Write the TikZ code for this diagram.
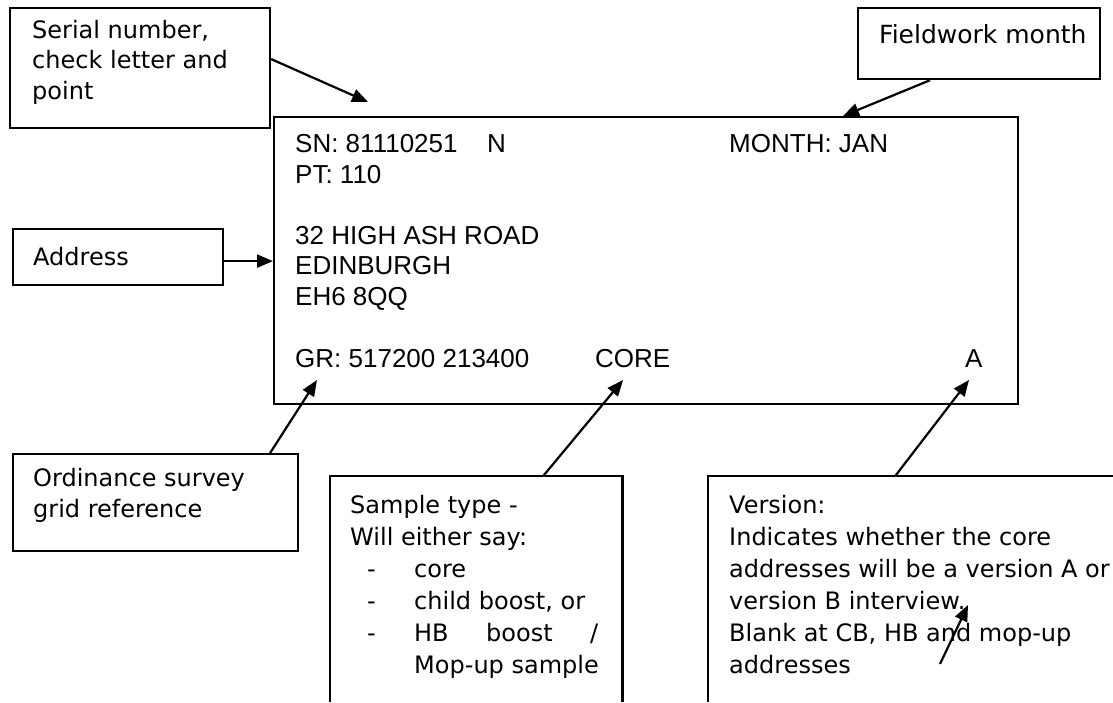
\documentclass[tikz,border=0pt]{standalone}
\usepackage{fontspec}
\setmainfont{DejaVu Sans}
\newfontfamily\arialf{Liberation Sans}
\usetikzlibrary{arrows.meta}
\begin{document}
\begin{tikzpicture}[x=1pt,y=-1pt,
  box/.style={draw, line width=2.2pt, inner sep=0pt, anchor=north west},
  area/.style={inner sep=0pt, anchor=north west},
  lbl/.style={anchor=base west, inner sep=0pt, align=left, font=\fontsize{24}{30.5}\selectfont},
  lblwide/.style={anchor=base west, inner sep=0pt, align=left, font=\fontsize{24}{32}\selectfont},
  rec/.style={anchor=base west, inner sep=0pt, align=left, font=\arialf\fontsize{26}{30.5}\selectfont},
  conn/.style={line width=2.2pt, -{Triangle[length=16pt,width=13pt]}}]
\useasboundingbox (0,0) rectangle (1113,702);

% boxes
\node[box, minimum width=260pt, minimum height=120pt] (serialbox) at (9,7) {};
\node[box, minimum width=242pt, minimum height=71pt] (monthbox) at (857,7) {};
\node[box, minimum width=744pt, minimum height=287pt] (mainbox) at (273,116) {};
\node[box, minimum width=210pt, minimum height=56pt] (addrbox) at (12,228) {};
\node[box, minimum width=285pt, minimum height=97pt] (osbox) at (12,453) {};
\node[area, minimum width=292pt, minimum height=226pt] (samplebox) at (330,476) {};
\draw[line width=2.2pt] (samplebox.south west) |- (samplebox.north east) -- (samplebox.south east);
\node[area, minimum width=405pt, minimum height=226pt] (versionbox) at (708,476) {};
\draw[line width=2.2pt] (versionbox.south west) -- (versionbox.north west) -- (versionbox.north east);

% callout texts (anchor = baseline of the last line)
\node[lbl] (serialtxt) at (32,99) {Serial number,\\check letter and\\point};
\node[lbl, font=\fontsize{25}{30}\selectfont] (monthtxt) at (879,43) {Fieldwork month};
\node[lbl] (addrtxt) at (33,265) {Address};
\node[lbl, font=\fontsize{24}{31}\selectfont] (ostxt) at (33,517) {Ordinance survey\\grid reference};
\node[lblwide] (sampletxt) at (350,673) {Sample type -\\Will either say:\\
  \hspace*{17pt}\makebox[47pt][l]{-}core\\
  \hspace*{17pt}\makebox[47pt][l]{-}child boost, or\\
  \hspace*{17pt}\makebox[47pt][l]{-}\makebox[184pt][s]{HB\hfill boost\hfill /}\\
  \hspace*{64pt}Mop-up sample};
\node[lblwide] (versiontxt) at (729,673) {Version:\\Indicates whether the core\\addresses will be a version A or\\version B interview.\\Blank at CB, HB and mop-up\\addresses};

% record texts
\node[rec] (sn) at (295,152) {\makebox[192pt][l]{SN: 81110251}N};
\node[rec] (month) at (729,152) {MONTH: JAN};
\node[rec] (pt) at (295,183) {PT: 110};
\node[rec] (addr) at (295,305) {32 HIGH ASH ROAD\\EDINBURGH\\EH6 8QQ};
\node[rec] (gr) at (295,367) {GR: 517200 213400};
\node[rec] (core) at (595,367) {CORE};
\node[rec] (ver) at (965,367) {A};

% arrow ends
\coordinate (sntip) at (368,102);
\coordinate (monthtip) at (843,116);
\coordinate (grtip) at (317,380);
\coordinate (coretip) at (623,380);
\coordinate (vertip) at (969,380);
\coordinate (straytail) at (940,664);
\coordinate (straytip) at (968,605);

% connectors
\draw[conn] ([yshift=9pt]serialbox.east) -- (sntip);
\draw[conn] ([xshift=-49pt]monthbox.south) -- (monthtip);
\draw[conn] ([yshift=-4pt]addrbox.east) -- ([yshift=-4pt]mainbox.west |- addrbox.east);
\draw[conn] ([xshift=114.5pt]osbox.north) -- (grtip);
\draw[conn] ([xshift=67pt]samplebox.north) -- (coretip);
\draw[conn] ([xshift=-15.5pt]versionbox.north) -- (vertip);
\draw[conn] (straytail) -- (straytip);
\end{tikzpicture}
\end{document}
